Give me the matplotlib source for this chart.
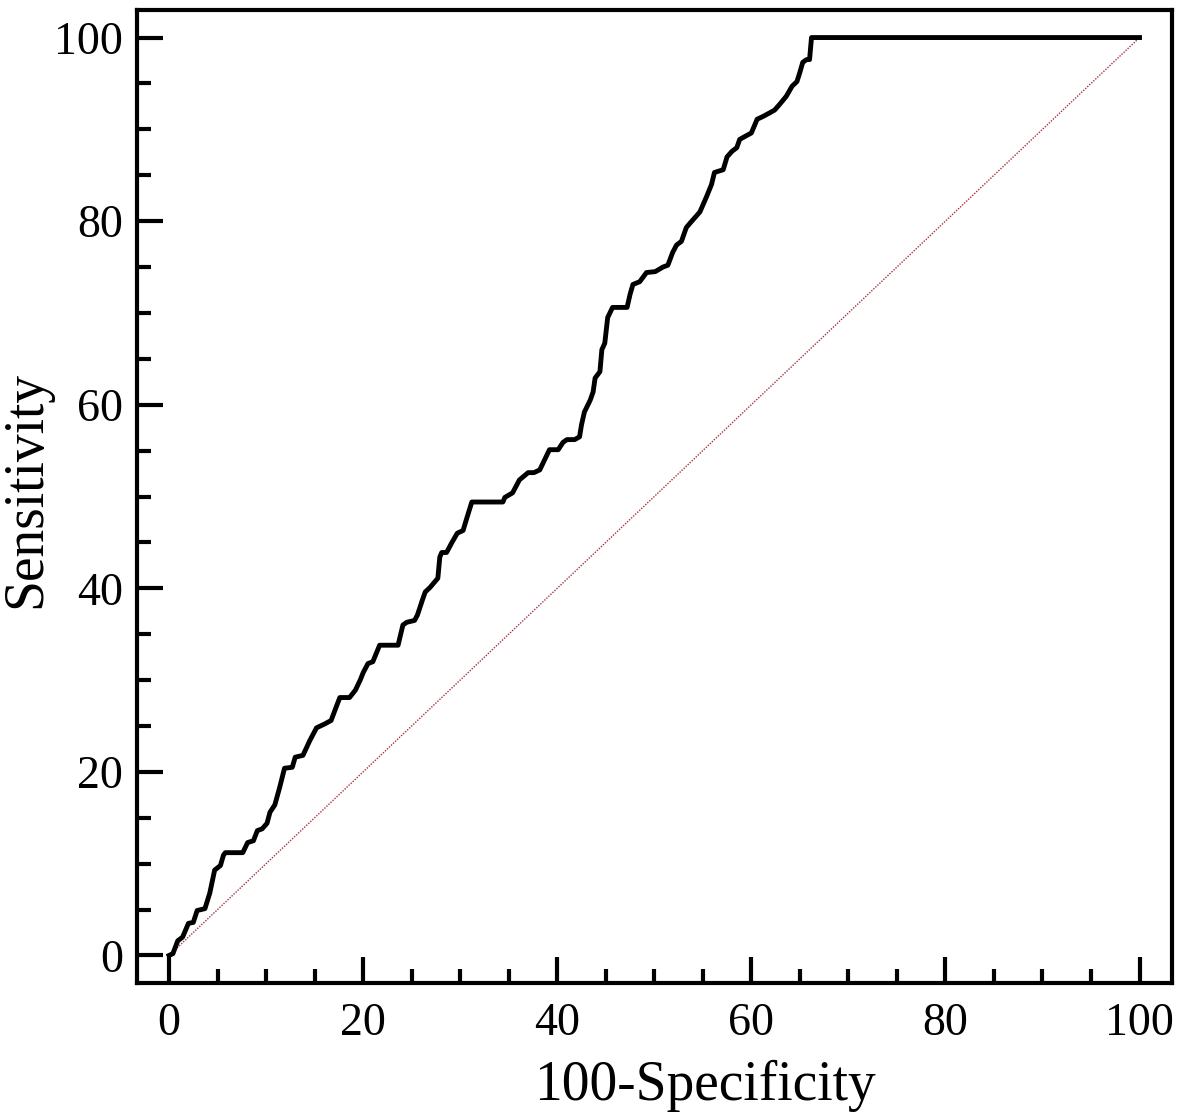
import numpy as np
import matplotlib.pyplot as plt
from matplotlib.ticker import MultipleLocator

# ROC curve points (100-Specificity, Sensitivity)
fpr = [0.0, 0.4, 0.9, 1.4, 2.0, 2.5, 2.9, 3.7, 4.2, 4.7, 5.3, 5.6, 5.8, 7.6, 8.1, 8.7,
       9.1, 9.6, 10.1, 10.4, 10.9, 11.4, 11.9, 12.7, 13.0, 13.8, 14.5, 15.2, 16.0, 16.7,
       17.2, 17.6, 18.6, 19.2, 19.7, 20.0, 20.5, 21.0, 21.7, 23.6, 24.1, 24.5, 25.3, 25.6,
       26.1, 26.4, 26.9, 27.7, 27.9, 28.1, 28.6, 29.1, 29.7, 30.3, 30.7, 31.2, 34.4, 34.6,
       35.4, 36.1, 37.0, 37.6, 38.2, 38.7, 39.2, 40.1, 40.6, 41.0, 41.8, 42.3, 42.5, 42.8,
       43.4, 43.7, 43.9, 44.4, 44.6, 44.9, 45.2, 45.7, 47.2, 47.5, 47.8, 48.5, 49.2, 50.1,
       50.9, 51.4, 51.9, 52.3, 52.8, 53.3, 53.7, 54.2, 54.7, 55.4, 55.9, 56.2, 57.1, 57.5,
       58.0, 58.5, 58.8, 59.3, 60.0, 60.6, 61.2, 61.9, 62.4, 62.9, 63.6, 64.2, 64.7, 65.0,
       65.3, 65.7, 66.0, 66.2, 100.0]
tpr = [0.0, 0.2, 1.6, 2.0, 3.5, 3.6, 4.9, 5.1, 6.8, 9.3, 9.8, 10.9, 11.2, 11.2, 12.3, 12.5,
       13.6, 13.8, 14.4, 15.6, 16.4, 18.3, 20.4, 20.5, 21.6, 21.8, 23.4, 24.8, 25.2, 25.6,
       27.0, 28.1, 28.1, 28.9, 30.0, 30.8, 31.8, 32.0, 33.8, 33.8, 36.0, 36.3, 36.5, 37.1,
       38.7, 39.6, 40.1, 41.1, 43.4, 43.9, 43.9, 44.9, 46.0, 46.3, 47.7, 49.4, 49.4, 49.9,
       50.4, 51.8, 52.6, 52.6, 52.9, 54.0, 55.1, 55.1, 55.9, 56.2, 56.2, 56.5, 57.8, 59.2,
       60.5, 61.4, 62.9, 63.6, 66.0, 66.7, 69.5, 70.6, 70.6, 72.0, 73.1, 73.4, 74.4, 74.5,
       75.0, 75.2, 76.6, 77.4, 77.8, 79.3, 79.8, 80.4, 81.0, 82.7, 84.0, 85.3, 85.6, 87.0,
       87.6, 88.0, 88.9, 89.2, 89.6, 91.1, 91.4, 91.8, 92.1, 92.7, 93.6, 94.7, 95.2, 96.2,
       97.3, 97.6, 97.6, 100.0, 100.0]
diag = [0, 100]

plt.rcParams['font.family'] = ['Liberation Serif', 'DejaVu Serif']

fig = plt.figure(figsize=(11.81, 11.12), dpi=100)
ax = fig.add_axes([0.116, 0.116, 0.876, 0.875])

ax.plot(diag, diag, color='#a8323c', lw=1.0, linestyle=(0, (1, 1)))
ax.plot(fpr, tpr, color='black', lw=3.5, solid_joinstyle='round')

ax.set_xlim(-3.3, 103.3)
ax.set_ylim(-3.0, 103.0)
ax.xaxis.set_major_locator(MultipleLocator(20))
ax.xaxis.set_minor_locator(MultipleLocator(5))
ax.yaxis.set_major_locator(MultipleLocator(20))
ax.yaxis.set_minor_locator(MultipleLocator(5))

ax.tick_params(which='major', direction='in', length=19, width=3, labelsize=33, pad=14)
ax.tick_params(which='minor', direction='in', length=10, width=3)
ax.tick_params(axis='y', which='major', pad=10)
ax.tick_params(top=False, right=False, which='both')

# two minor ticks drawn in dark red on the y axis
ymin_locs = ax.yaxis.get_minorticklocs()
for loc, t in zip(ymin_locs, ax.yaxis.get_minor_ticks()):
    if np.isclose(loc, 50) or np.isclose(loc, 65):
        t.tick1line.set_color('#7a0000')

for s in ax.spines.values():
    s.set_linewidth(3)

ax.set_xlabel('100-Specificity', fontsize=40)
ax.set_ylabel('Sensitivity', fontsize=40)
ax.xaxis.set_label_coords(0.549, -0.079)
ax.yaxis.set_label_coords(-0.082, 0.507)

fig.savefig('out.png', dpi=100)
